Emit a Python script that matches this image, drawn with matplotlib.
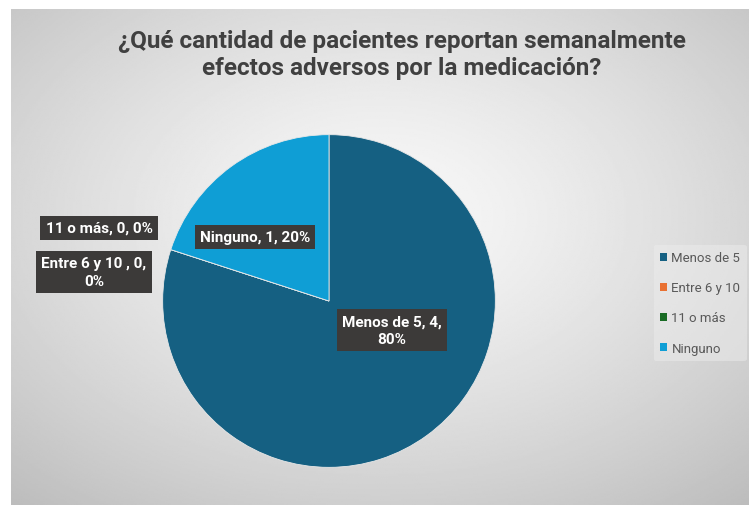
import numpy as np
import matplotlib
matplotlib.use("Agg")
import matplotlib.pyplot as plt
from matplotlib.patches import Patch

title = "¿Qué cantidad de pacientes reportan semanalmente\nefectos adversos por la medicación?"
categories = ["Menos de 5", "Entre 6 y 10 ", "11 o más", "Ninguno"]
values = [4, 0, 0, 1]
colors = ["#156082", "#E97132", "#196B24", "#0F9ED5"]

W, H = 749, 506
fig = plt.figure(figsize=(W / 100, H / 100), dpi=100)
fig.patch.set_facecolor("white")

# background radial gradient
bg = fig.add_axes([11 / W, 0, 1 - 11 / W, 1 - 10 / H], zorder=0)
yy, xx = np.mgrid[0:1:300j, 0:1:400j]
r = np.sqrt(((xx - 0.5) / 0.75) ** 2 + ((yy - 0.42) / 0.75) ** 2)
val = np.clip(0.975 - 0.23 * r ** 1.3, 0, 1)
bg.imshow(val, cmap="gray", vmin=0, vmax=1, aspect="auto", extent=[0, 1, 1, 0])
bg.set_axis_off()

fam = ["Roboto", "DejaVu Sans"]

fig.text(402 / W, 1 - 55 / H, title, ha="center", va="center", fontsize=17.5,
         fontweight="bold", color="#404040", family=fam, linespacing=1.2)

cx, cy, R = 329, 302, 168
ax = fig.add_axes([(cx - R) / W, (H - cy - R) / H, 2 * R / W, 2 * R / H], zorder=2)
wedges, _ = ax.pie(values, colors=colors, startangle=90, counterclock=False,
                   radius=1, wedgeprops=dict(linewidth=0.6, edgecolor="#e8e8e8"))
ax.set_xlim(-1.01, 1.01)
ax.set_ylim(-1.01, 1.01)
ax.set_axis_off()

total = sum(values)
wrap = [True, True, False, False]
label_pos = [(392, 331), (94, 273), (99, 229), (255, 238)]
for cat, v, w, (px, py) in zip(categories, values, wrap, label_pos):
    pct = round(100 * v / total)
    if w:
        txt = f"{cat}, {v},\n{pct}%"
    else:
        txt = f"{cat}, {v}, {pct}%"
    fig.text(px / W, 1 - py / H, txt, ha="center", va="center", fontsize=11,
             fontweight="bold", color="white", family=fam, linespacing=1.3,
             zorder=5,
             bbox=dict(boxstyle="square,pad=0.35", facecolor="#3c3a39",
                       edgecolor="none"))

handles = [Patch(facecolor=c, edgecolor="none") for c in colors]
leg = fig.legend(handles, [c.strip() for c in categories], loc="upper left",
                 bbox_to_anchor=(647 / W, 1 - 239 / H), frameon=True,
                 handlelength=0.55, handleheight=0.55,
                 handletextpad=0.3, labelspacing=1.3, borderpad=0.5,
                 prop=dict(family=fam, size=9.5))
leg.get_frame().set_facecolor("#ececec")
leg.get_frame().set_edgecolor("none")
leg.get_frame().set_alpha(0.5)
for t in leg.get_texts():
    t.set_color("#595959")

fig.savefig("out.png", dpi=100)
